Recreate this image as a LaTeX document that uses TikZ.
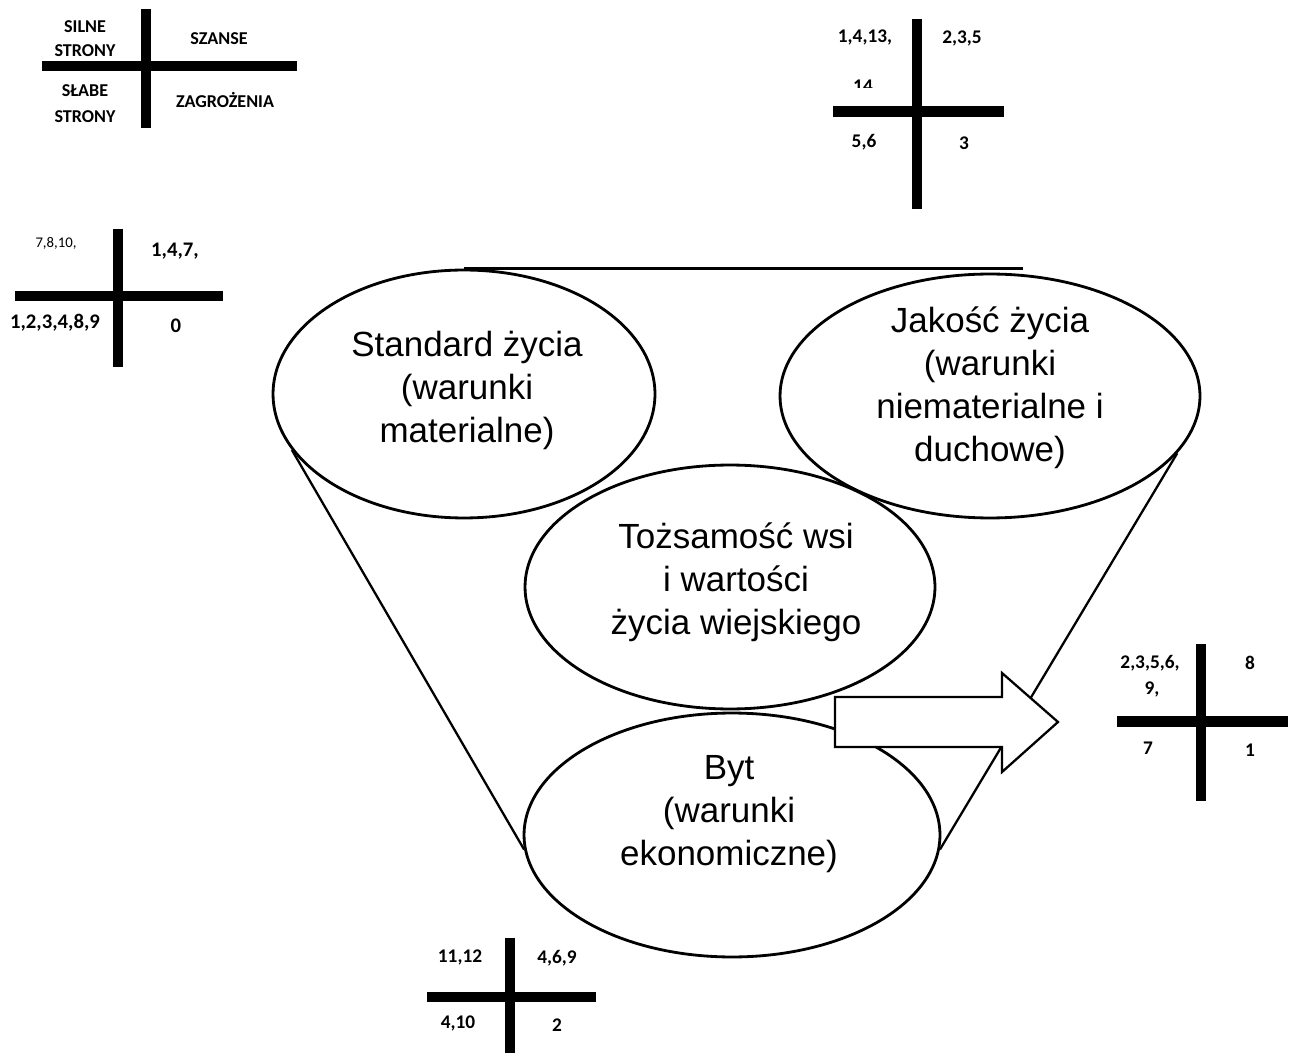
\documentclass[tikz,border=0pt]{standalone}
\usepackage{fontspec}
\setmainfont{Liberation Sans}
\newfontfamily\carfont{Carlito}
\usetikzlibrary{shapes.geometric}
\begin{document}
\begin{tikzpicture}[x=0.02cm,y=-0.02cm,
  oval/.style={draw, ellipse, line width=1.6pt, inner sep=0pt},
  etext/.style={align=center, font=\fontsize{19.9}{24.5}\selectfont, inner sep=0pt},
  bar/.style={line width=5.7pt},
  qlab/.style={font=\carfont\bfseries\fontsize{10.3}{12}\selectfont, inner sep=0pt},
  qnum/.style={font=\carfont\bfseries\fontsize{11}{13}\selectfont, inner sep=0pt},
  qbig/.style={font=\carfont\bfseries\fontsize{11.8}{14}\selectfont, inner sep=0pt},
  qsmall/.style={font=\carfont\fontsize{8.4}{10}\selectfont, inner sep=0pt},
  cone/.style={line width=1.3pt}]
\useasboundingbox (0,0) rectangle (1290,1053);

% ---------- key cross (top left)
\draw[bar] (146,9) -- (146,128);
\draw[bar] (42,66.5) -- (297,66.5);
\node[qlab] (k1) at (85,27) {SILNE};
\node[qlab] (k2) at (85,51) {STRONY};
\node[qlab] (k3) at (219,39) {SZANSE};
\node[qlab] (k4) at (85,91) {SŁABE};
\node[qlab] (k5) at (85,117) {STRONY};
\node[qlab] (k6) at (225,100) {ZAGROŻENIA};

% ---------- cross 2 (left)
\draw[bar] (118,229) -- (118,367);
\draw[bar] (15,296) -- (223,296);
\node[qsmall] (a1) at (56,243) {7,8,10,};
\node[qbig] (a2) at (175,251) {1,4,7,};
\node[qbig] (a3) at (55,323) {1,2,3,4,8,9};
\node[qbig] (a4) at (176,326) {0};

% ---------- cross 3 (top right)
\draw[bar] (917,19) -- (917,209);
\draw[bar] (833,111.5) -- (1004,111.5);
\node[qnum] (b1) at (865,37) {1,4,13,};
\begin{scope}
\clip (830,70) rectangle (900,87.5);
\node[qnum] (b2) at (863,86) {14};
\end{scope}
\node[qnum] (b3) at (962,38) {2,3,5};
\node[qnum] (b4) at (864,142) {5,6};
\node[qnum] (b5) at (964,143) {3};

% ---------- cross 4 (right)
\draw[bar] (1201,644) -- (1201,801);
\draw[bar] (1117,721.5) -- (1288,721.5);
\node[qnum] (c1) at (1150,663) {2,3,5,6,};
\node[qnum] (c2) at (1152,689) {9,};
\node[qnum] (c3) at (1250,663) {8};
\node[qnum] (c4) at (1148,748) {7};
\node[qnum] (c5) at (1250,750) {1};

% ---------- cross 5 (bottom)
\draw[bar] (510,938) -- (510,1053);
\draw[bar] (427,996.5) -- (596,996.5);
\node[qnum] (d1) at (460,957) {11,12};
\node[qnum] (d2) at (557,958) {4,6,9};
\node[qnum] (d3) at (458,1023) {4,10};
\node[qnum] (d4) at (557,1025) {2};

% ---------- ellipses
\node[oval, minimum width=7.64cm, minimum height=4.96cm] (std) at (464,394) {};
\node[oval, minimum width=8.4cm, minimum height=4.88cm] (jak) at (990,396) {};
\node[oval, minimum width=8.2cm, minimum height=4.88cm] (toz) at (730,587) {};
\node[oval, minimum width=8.32cm, minimum height=4.88cm] (byt) at (732,835) {};

\node[etext] (stdt) at (467,390) {Standard życia\\(warunki\\materialne)};
\node[etext] (jakt) at (990,388) {Jakość życia\\(warunki\\niematerialne i\\duchowe)};
\node[etext] (tozt) at (736,582) {Tożsamość wsi\\i wartości\\życia wiejskiego};
\node[etext] (bytt) at (729,814) {Byt\\(warunki\\ekonomiczne)};

% ---------- cone
\draw[line width=1.6pt] (std.north) -- (std.north -| jak.75);
\draw[cone] (std.198.6) -- (byt.184.7);
\draw[cone] (jak.-17) -- (byt.-4.2);

% ---------- block arrow
\draw[line width=1.3pt, fill=white] (835,697) -- (1002,697) -- (1002,673) -- (1058,722)
  -- (1002,772) -- (1002,747) -- (835,747) -- cycle;
\end{tikzpicture}
\end{document}
